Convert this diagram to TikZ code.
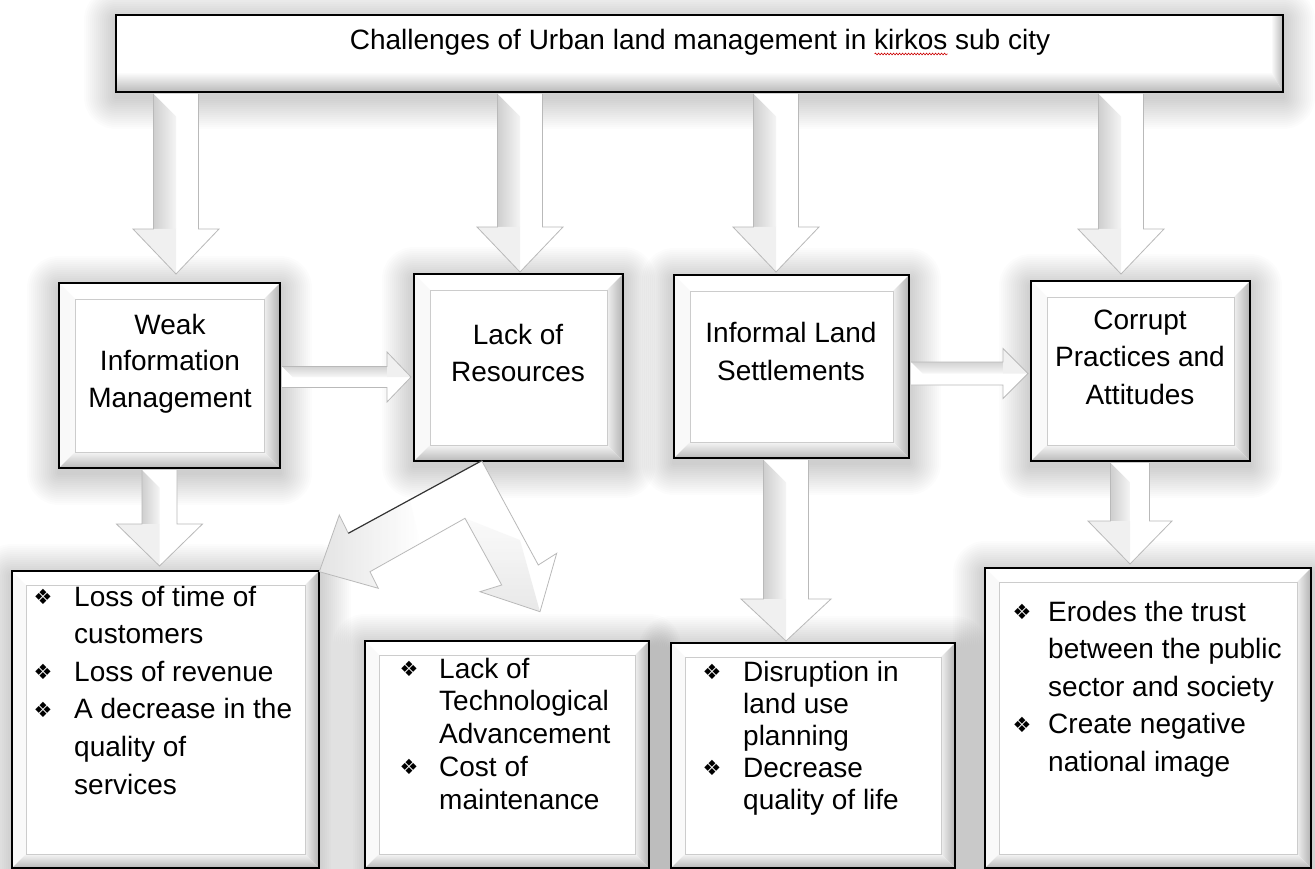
\documentclass[tikz,border=0pt]{standalone}
\usepackage{fontspec}
\setmainfont{Liberation Sans}
\newfontfamily\dejavu{DejaVu Sans}
\usetikzlibrary{calc,decorations.pathmorphing}
\tikzset{
  txt/.style={inner sep=0pt, font=\fontsize{28}{33}\selectfont},
  bul/.style={inner sep=0pt, font=\dejavu\fontsize{21}{21}\selectfont},
  arrowline/.style={draw=gray!55, line width=0.8pt},
  boxline/.style={draw=black, line width=2pt, inner sep=0pt},
}
\newcommand\glowbox[4]{%
  \foreach \r in {2,4,...,32}{\fill[black,opacity=0.013,rounded corners=\r pt] (#1-\r,#2-\r+5) rectangle (#3+\r,#4+\r+5);}%
}
\newcommand\bevelbox[6]{%
  \fill[white] (#2,#3) rectangle (#4,#5);
  \fill[gray!5] (#2,#3) -- (#2+#6,#3+#6) -- (#2+#6,#5-#6) -- (#2,#5) -- cycle;
  \shade[left color=gray!12, right color=gray!60] (#4,#3) -- (#4-#6,#3+#6) -- (#4-#6,#5-#6) -- (#4,#5) -- cycle;
  \shade[top color=gray!8, bottom color=gray!55] (#2,#5) -- (#2+#6,#5-#6) -- (#4-#6,#5-#6) -- (#4,#5) -- cycle;
  \draw[gray!40, line width=1pt] (#2+#6,#3+#6) rectangle (#4-#6,#5-#6);
  \node[boxline, minimum width=#4pt-#2pt, minimum height=#5pt-#3pt] (#1) at ({(#2+#4)/2},{(#3+#5)/2}) {};
}
% vertical block arrow: from, to, x, gap, shaft half, head half, head length
\newcommand\vblock[7]{%
  \fill[white] let \p1=(#1), \p2=(#2) in (#3pt-#5pt,\y1-1pt) -- (#3pt-#5pt,\y2+#4pt+#7pt) -- (#3pt-#6pt,\y2+#4pt+#7pt) -- (#3pt,\y2+#4pt) -- (#3pt+#6pt,\y2+#4pt+#7pt) -- (#3pt+#5pt,\y2+#4pt+#7pt) -- (#3pt+#5pt,\y1-1pt) -- cycle;
  \shade[left color=gray!38, right color=gray!8] let \p1=(#1), \p2=(#2) in (#3pt-#5pt,\y1-1pt) -- (#3pt,\y1-1pt-#5pt) -- (#3pt,\y2+#4pt+#7pt) -- (#3pt-#5pt,\y2+#4pt+#7pt) -- cycle;
  \fill[gray!12] let \p1=(#1), \p2=(#2) in (#3pt-#6pt,\y2+#4pt+#7pt) -- (#3pt,\y2+#4pt+#7pt) -- (#3pt,\y2+#4pt) -- cycle;
  \draw[arrowline] let \p1=(#1), \p2=(#2) in (#3pt-#5pt,\y1-1pt) -- (#3pt-#5pt,\y2+#4pt+#7pt) -- (#3pt-#6pt,\y2+#4pt+#7pt) -- (#3pt,\y2+#4pt) -- (#3pt+#6pt,\y2+#4pt+#7pt) -- (#3pt+#5pt,\y2+#4pt+#7pt) -- (#3pt+#5pt,\y1-1pt);
}
% horizontal block arrow: from, to, y, gap, shaft half, head half, head length
\newcommand\hblock[7]{%
  \fill[white] let \p1=(#1), \p2=(#2) in (\x1+1pt,-#3pt+#5pt) -- (\x2-#4pt-#7pt,-#3pt+#5pt) -- (\x2-#4pt-#7pt,-#3pt+#6pt) -- (\x2-#4pt,-#3pt) -- (\x2-#4pt-#7pt,-#3pt-#6pt) -- (\x2-#4pt-#7pt,-#3pt-#5pt) -- (\x1+1pt,-#3pt-#5pt) -- cycle;
  \shade[top color=gray!35, bottom color=gray!6] let \p1=(#1), \p2=(#2) in (\x1+1pt,-#3pt+#5pt) -- (\x2-#4pt-#7pt,-#3pt+#5pt) -- (\x2-#4pt-#7pt,-#3pt) -- (\x1+1pt+#5pt,-#3pt) -- cycle;
  \fill[gray!12] let \p1=(#1), \p2=(#2) in (\x2-#4pt-#7pt,-#3pt+#6pt) -- (\x2-#4pt,-#3pt) -- (\x2-#4pt-#7pt,-#3pt) -- cycle;
  \draw[arrowline] let \p1=(#1), \p2=(#2) in (\x1+1pt,-#3pt+#5pt) -- (\x2-#4pt-#7pt,-#3pt+#5pt) -- (\x2-#4pt-#7pt,-#3pt+#6pt) -- (\x2-#4pt,-#3pt) -- (\x2-#4pt-#7pt,-#3pt-#6pt) -- (\x2-#4pt-#7pt,-#3pt-#5pt) -- (\x1+1pt,-#3pt-#5pt);
}
\newcommand\clines[5]{%
  \foreach \t [count=\i from 0] in {#5} \node[txt, anchor=base] (#1\i) at (#2,{#3+\i*#4}) {\t};
}
\newcommand\llines[5]{%
  \foreach \t [count=\i from 0] in {#5} \node[txt, anchor=base west] (#1\i) at (#2,{#3+\i*#4}) {\t};
}
\newcommand\bulletmark[3]{\node[bul] (#1) at (#2,#3) {❖};}

\begin{document}
\begin{tikzpicture}[x=1pt,y=-1pt]
\fill[white] (0,0) rectangle (1315,869);
\useasboundingbox (0,0) rectangle (1315,869);

% soft shadows
\glowbox{116}{15}{1283}{92}
\glowbox{59}{283}{280}{468}
\glowbox{414}{274}{623}{461}
\glowbox{674}{275}{909}{458}
\glowbox{1031}{281}{1250}{461}
\glowbox{12}{571}{319}{868}
\glowbox{365}{641}{649}{868}
\glowbox{671}{643}{955}{868}
\glowbox{985}{568}{1311}{868}

% top box
\fill[white] (116,15) rectangle (1283,92);
\shade[left color=white, right color=gray!55] (1271,15) -- (1283,15) -- (1283,92) -- (1271,72) -- cycle;
\shade[top color=white, bottom color=gray!55] (116,72) -- (1271,72) -- (1283,92) -- (116,92) -- cycle;
\node[boxline, minimum width=1167pt, minimum height=77pt] (top) at (699.5,53.5) {};
\node[txt, anchor=base] (title) at (700,50) {Challenges of Urban land management in kirkos sub city};
\draw[red!80!black, line width=0.6pt, decorate, decoration={snake, amplitude=0.9pt, segment length=3pt}]
  ([xshift=525pt, yshift=-4pt]title.base west) -- ([xshift=598pt, yshift=-4pt]title.base west);

% middle boxes
\bevelbox{weak}{59}{283}{280}{468}{16}
\bevelbox{lack}{414}{274}{623}{461}{16}
\bevelbox{inf}{674}{275}{909}{458}{16}
\bevelbox{corr}{1031}{281}{1250}{461}{16}
\clines{weakT}{170}{334}{36.7}{Weak,Information,Management}
\clines{lackT}{518}{344}{37}{Lack of,Resources}
\clines{infT}{791}{342}{38}{Informal Land,Settlements}
\clines{corrT}{1140}{329}{37.5}{Corrupt,Practices and,Attitudes}

% bottom boxes
\bevelbox{b1}{12}{571}{319}{868}{14}
\bevelbox{b2}{365}{641}{649}{868}{14}
\bevelbox{b3}{671}{643}{955}{868}{14}
\bevelbox{b4}{985}{568}{1311}{868}{14}
\llines{bA}{74}{606}{37.6}{Loss of time of,customers,Loss of revenue,A decrease in the,quality of,services}
\bulletmark{bA1}{43}{597}\bulletmark{bA2}{43}{672}\bulletmark{bA3}{43}{710}
\llines{bB}{439}{678}{32.8}{Lack of,Technological,Advancement,Cost of,maintenance}
\bulletmark{bB1}{409}{669}\bulletmark{bB2}{409}{767}
\llines{bC}{743}{681}{32}{Disruption in,land use,planning,Decrease,quality of life}
\bulletmark{bC1}{712}{672}\bulletmark{bC2}{712}{768}
\llines{bD}{1048}{621}{37.5}{Erodes the trust,between the public,sector and society,Create negative,national image}
\bulletmark{bD1}{1022}{612}\bulletmark{bD2}{1022}{725}

% arrows from the title box
\vblock{top.south}{weak.north}{176}{8}{22.5}{43}{45}
\vblock{top.south}{lack.north}{520}{1}{22.5}{43}{45}
\vblock{top.south}{inf.north}{776}{2}{22.5}{43}{45}
\vblock{top.south}{corr.north}{1121}{6}{22.5}{43}{45}

% horizontal arrows
\hblock{weak.east}{lack.west}{377}{2}{10.5}{25}{24}
\hblock{inf.east}{corr.west}{373.5}{2}{11.5}{25}{25}

% down arrows to the bottom boxes
\vblock{weak.south}{b1.north}{159.5}{4}{17.5}{43}{42}
\vblock{inf.south}{b3.north}{786}{1}{22.5}{45}{42}
\vblock{corr.south}{b4.north}{1130}{3}{19.5}{42}{43}

% bent double arrow from Lack of Resources
\fill[white] (319.3,571.7) -- (339.3,515) -- (348.3,533.3) -- (481.7,460.7) -- (538.3,565) -- (556.7,553.3) -- (540,611.7) -- (480,591.7) -- (501.7,585) -- (465,518.3) -- (370,571.7) -- (378.3,588.3) -- cycle;
\shade[left color=gray!30, right color=white, opacity=0.7] (319.3,571.7) -- (339.3,515) -- (348.3,533.3) -- (410,500) -- (420,543) -- (370,571.7) -- (378.3,588.3) -- cycle;
\shade[top color=gray!5, bottom color=gray!25, opacity=0.7] (465,518.3) -- (501.7,585) -- (480,591.7) -- (540,611.7) -- (520,540) -- cycle;
\draw[gray!55, line width=0.8pt] (348.3,533.3) -- (339.3,515) -- (319.3,571.7) -- (378.3,588.3) -- (370,571.7) -- (465,518.3) -- (501.7,585) -- (480,591.7) -- (540,611.7) -- (556.7,553.3) -- (538.3,565) -- (481.7,460.7);
\draw[black!80, line width=1.2pt] (348.3,533.3) -- (481.7,460.7);
\end{tikzpicture}
\end{document}
